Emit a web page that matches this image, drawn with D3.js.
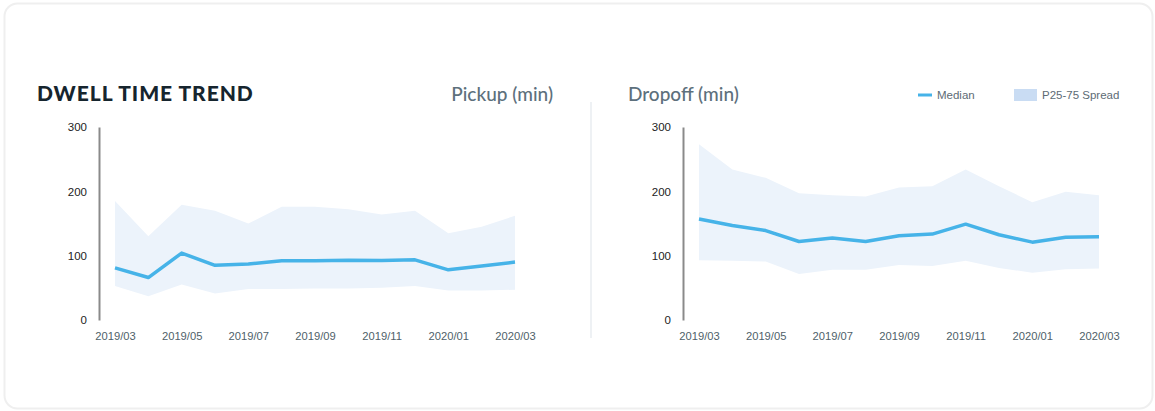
<!DOCTYPE html>
<html><head><meta charset="utf-8">
<script src="https://cdn.jsdelivr.net/npm/d3@7"></script>
<style>
html,body{margin:0;padding:0;background:#fff;}
svg{display:block;font-family:"Open Sans","Liberation Sans",sans-serif;}
</style></head>
<body><svg id="c" width="1155" height="411"></svg>
<script>
const months = ["2019/03","2019/04","2019/05","2019/06","2019/07","2019/08","2019/09","2019/10","2019/11","2019/12","2020/01","2020/02","2020/03"];
const tickLabels = ["2019/03","2019/05","2019/07","2019/09","2019/11","2020/01","2020/03"];
const yTicks = [0,100,200,300];
const pickupMedian = [81,66,104,85,87,92,92,93,92.5,93.5,78,84,90];
const pickupP25    = [53,37,55,41,48,48,49,49,50,53,46,46,47];
const pickupP75    = [185,130,179,170,150,176,176,172,164,170,135,145,162];
const dropoffMedian = [157,147,139,122,127.5,122,131,133.5,149,132.5,121,128.5,129.5];
const dropoffP25    = [93,92,91,71.5,78,78,85.5,84,92,81,73.5,79,80];
const dropoffP75    = [273,234,221,197,194,192,206,208,234,208,183,199.5,194];

const svg = d3.select("#c");
svg.append("rect").attr("x",4.5).attr("y",3.5).attr("width",1148).attr("height",405)
  .attr("rx",13).attr("fill","#fff").attr("stroke","#efefef").attr("stroke-width",2);

svg.append("text").attr("x",37).attr("y",101).text("DWELL TIME TREND")
  .attr("font-family","Lato, 'Open Sans', sans-serif").attr("font-weight",900)
  .attr("font-size",21).attr("fill","#16252e").attr("letter-spacing",0.95);

svg.append("line").attr("x1",591).attr("x2",591).attr("y1",102).attr("y2",338)
  .attr("stroke","#eef1f4").attr("stroke-width",2);

function panel(axisX, title, titleX, anchor, med, lo, hi) {
  const y = d3.scaleLinear().domain([0,300]).range([320,127]);
  const x = d3.scalePoint().domain(months).range([axisX+16, axisX+416]);
  const g = svg.append("g");
  g.append("text").attr("x",titleX).attr("y",101).attr("text-anchor",anchor).text(title)
    .attr("font-size",19).attr("fill","#5d707c").attr("font-family","Lato, 'Open Sans', sans-serif").attr("font-weight",500);
  const data = months.map((m,i)=>({m, med:med[i], lo:lo[i], hi:hi[i]}));
  g.append("path").datum(data)
    .attr("d", d3.area().x(d=>x(d.m)).y0(d=>y(d.lo)).y1(d=>y(d.hi)))
    .attr("fill","#ecf3fb");
  g.append("path").datum(data)
    .attr("d", d3.line().x(d=>x(d.m)).y(d=>y(d.med)))
    .attr("fill","none").attr("stroke","#46b3e8").attr("stroke-width",3.5).attr("stroke-linejoin","round");
  const ya = g.append("g").attr("transform",`translate(${axisX},0)`)
    .call(d3.axisLeft(y).tickValues(yTicks).tickSize(0).tickPadding(12));
  ya.select(".domain").attr("stroke","#8a8a8a").attr("stroke-width",2);
  ya.selectAll("text").attr("font-size",11.5).attr("fill","#222").attr("font-family","'Liberation Sans', Arial, sans-serif");
  const xa = g.append("g").attr("transform",`translate(0,330)`)
    .call(d3.axisBottom(x).tickValues(tickLabels).tickSize(0).tickPadding(2));
  xa.select(".domain").remove();
  xa.selectAll("text").attr("font-size",11.2).attr("fill","#4f5f6a").attr("font-family","'Liberation Sans', Arial, sans-serif");
}
panel(99, "Pickup (min)", 553, "end", pickupMedian, pickupP25, pickupP75);
panel(683, "Dropoff (min)", 628, "start", dropoffMedian, dropoffP25, dropoffP75);

// legend
const lg = svg.append("g").attr("font-family","'Liberation Sans', Arial, sans-serif").attr("font-size",11.5).attr("fill","#5d6b75");
lg.append("line").attr("x1",918).attr("x2",932).attr("y1",95).attr("y2",95).attr("stroke","#46b3e8").attr("stroke-width",3);
lg.append("text").attr("x",937).attr("y",99).text("Median");
lg.append("rect").attr("x",1014).attr("y",89).attr("width",23).attr("height",12).attr("fill","#c9dcf3");
lg.append("text").attr("x",1042).attr("y",99).text("P25-75 Spread");
</script></body></html>
